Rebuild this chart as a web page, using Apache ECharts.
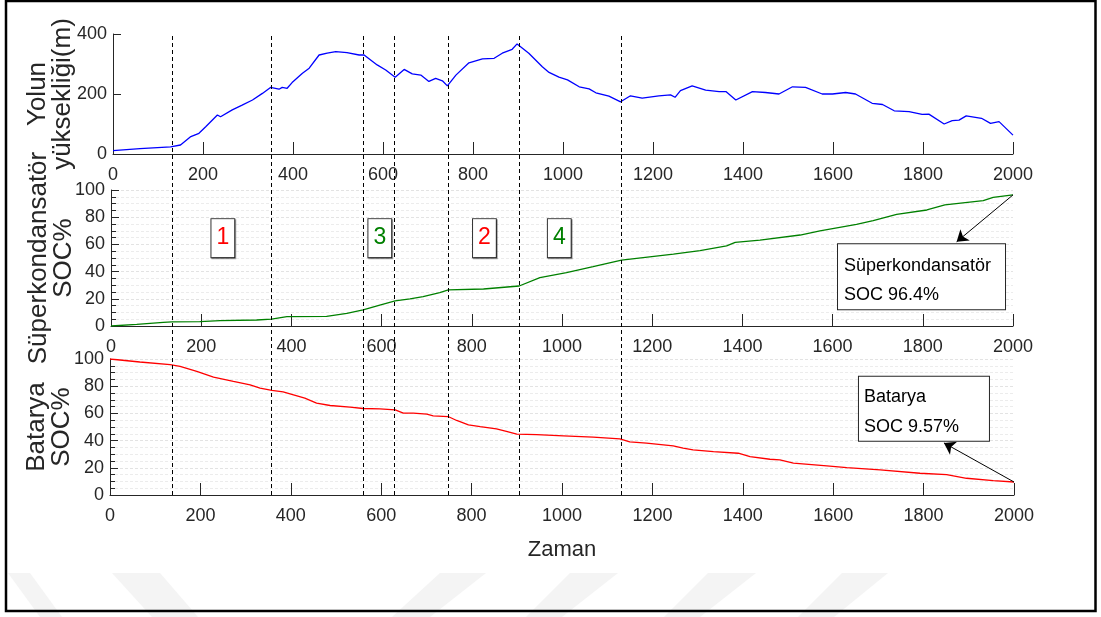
<!DOCTYPE html>
<html>
<head>
<meta charset="utf-8">
<style>
  html, body { margin: 0; padding: 0; background: #fff; }
  .main { width: 1101px; height: 617px; }
</style>
<script src="https://cdn.jsdelivr.net/npm/echarts@6/dist/echarts.min.js"></script>
</head>
<body>
<div class="main"></div>
<script>
// road elevation (m)
var elevX = [0, 60, 128, 150, 173, 191, 206, 232, 239, 265, 287, 310, 332, 350, 369, 376, 387, 398, 421, 436, 458, 476, 495, 520, 547, 558, 587, 606, 627, 647, 665, 684, 702, 717, 732, 743, 762, 791, 821, 847, 865, 887, 898, 924, 954, 969, 991, 1010, 1036, 1058, 1073, 1102, 1128, 1150, 1176, 1213, 1239, 1249, 1261, 1287, 1317, 1347, 1362, 1384, 1421, 1450, 1480, 1510, 1539, 1576, 1599, 1628, 1650, 1687, 1710, 1736, 1769, 1798, 1813, 1847, 1865, 1880, 1896, 1930, 1950, 1969, 2000];
var elevY = [11, 18, 24, 30, 58, 69, 91, 130, 124, 147, 163, 180, 202, 222, 216, 222, 219, 238, 269, 286, 330, 336, 341, 338, 330, 330, 297, 280, 256, 282, 267, 263, 242, 252, 244, 227, 263, 304, 317, 319, 336, 349, 367, 336, 291, 272, 256, 247, 224, 217, 204, 193, 174, 194, 186, 194, 197, 189, 211, 227, 213, 208, 208, 180, 208, 205, 200, 224, 222, 200, 200, 205, 200, 169, 165, 144, 141, 132, 133, 100, 111, 113, 127, 119, 102, 108, 63];

// supercapacitor SOC %
var scX = [0, 57, 116, 135, 197, 242, 323, 356, 390, 478, 523, 559, 596, 630, 663, 692, 729, 748, 826, 905, 951, 1010, 1069, 1132, 1247, 1306, 1365, 1384, 1439, 1528, 1572, 1653, 1690, 1742, 1809, 1849, 1934, 1956, 2000];
var scY = [0, 1.2, 2.7, 3, 3.2, 3.9, 4.4, 5.1, 6.9, 7.1, 9.3, 11.8, 15.4, 18.4, 19.9, 21.6, 24.5, 26.5, 27.2, 29.4, 35.5, 39.2, 43.6, 48.5, 52.9, 55.4, 58.9, 61.5, 63.2, 66.9, 70, 74.8, 77.5, 82, 85.3, 89, 92.2, 94.6, 96.4];

// battery SOC %
var batX = [0, 66, 133, 155, 192, 229, 273, 310, 332, 358, 383, 406, 431, 457, 487, 531, 560, 597, 631, 649, 671, 701, 715, 748, 767, 793, 819, 855, 877, 900, 944, 1003, 1069, 1128, 1150, 1187, 1246, 1268, 1290, 1335, 1390, 1416, 1460, 1482, 1512, 1586, 1630, 1704, 1792, 1851, 1895, 1954, 2000];
var batY = [100, 97.8, 95.8, 94.5, 90.9, 86.7, 83.5, 81, 78.6, 76.9, 75.9, 73.7, 71.3, 67.6, 65.8, 64.6, 63.6, 63.4, 62.6, 60.2, 60.2, 59.5, 58.2, 57.7, 54.8, 51.6, 50.3, 48.6, 46.7, 44.7, 44.4, 43.5, 42.5, 41.3, 39, 38.1, 36.1, 34.4, 33.2, 31.9, 30.7, 28.2, 26.3, 25.8, 23.4, 21.4, 20.1, 18.4, 16, 15, 12.3, 10.5, 9.57];

// mode change instants (dashed lines)
var phaseX = [135, 356, 560, 629, 747, 905, 1132];

// mode boxes
var modeNames = ['1', '3', '2', '4'];
var modeX = [248, 596, 828, 994];
var modeColors = ['#ff0000', '#008000', '#ff0000', '#008000'];

var scFinal = 96.4;
var batFinal = 9.57;

(function() {
  function zip(xs, ys) {
    return xs.map(function(x, i) { return [x, ys[i]]; });
  }
  function plain(v) {
    return String(v);
  }

  var font = 'Liberation Sans, Arial, Helvetica, sans-serif';
  var ink = '#262626';

  function xAx(gridIndex, name) {
    return {
      type: 'value',
      gridIndex: gridIndex,
      min: 0,
      max: 2000,
      interval: 200,
      name: name || '',
      nameLocation: 'middle',
      nameGap: 44,
      nameMoveOverlap: false,
      nameTextStyle: { fontSize: 22, color: ink, fontFamily: font },
      axisLine: { show: true, lineStyle: { color: ink, width: 1 } },
      axisTick: { show: true, inside: true, length: 12, lineStyle: { color: ink } },
      axisLabel: { color: ink, fontSize: 18, fontFamily: font, margin: 12, formatter: plain },
      splitLine: { show: false }
    };
  }

  function yAx(gridIndex, name, max, interval, minor, gap) {
    return {
      type: 'value',
      gridIndex: gridIndex,
      min: 0,
      max: max,
      interval: interval,
      name: name,
      nameLocation: 'middle',
      nameRotate: 90,
      nameGap: gap,
      nameMoveOverlap: false,
      nameTextStyle: { fontSize: 26, lineHeight: 25, color: ink, fontFamily: font },
      axisLine: { show: true, lineStyle: { color: ink, width: 1 } },
      axisTick: { show: true, inside: true, length: 8, lineStyle: { color: ink } },
      minorTick: { show: minor, splitNumber: 4, length: 5, lineStyle: { color: ink } },
      axisLabel: { color: ink, fontSize: 18, fontFamily: font, margin: 6, formatter: plain },
      splitLine: { show: minor, lineStyle: { color: '#e3e3e3', type: [3, 2] } },
      minorSplitLine: { show: minor, lineStyle: { color: '#ececec', type: [3, 2] } }
    };
  }

  // number boxes for the modes
  var modePoints = modeNames.map(function(n, i) {
    return {
      coord: [modeX[i], 64.6],
      label: {
        show: true,
        position: 'inside',
        formatter: n,
        color: modeColors[i],
        fontSize: 23,
        fontFamily: font,
        lineHeight: 23,
        padding: [8, 5, 7, 5],
        borderColor: '#333',
        borderWidth: 1,
        backgroundColor: '#fff',
        shadowColor: 'rgba(0,0,0,0.35)',
        shadowOffsetX: 1,
        shadowOffsetY: 1
      }
    };
  });

  var boxLabel = {
    show: true,
    position: [0, 0],
    align: 'left',
    verticalAlign: 'top',
    color: '#000',
    fontSize: 18,
    fontFamily: font,
    borderColor: ink,
    borderWidth: 1,
    backgroundColor: '#fff'
  };

  var scBox = {
    coord: [1612, 60.2],
    label: Object.assign({}, boxLabel, {
      formatter: 'Süperkondansatör\nSOC ' + scFinal + '%',
      lineHeight: 29,
      width: 155,
      height: 57,
      padding: [7, 6, 1, 6]
    })
  };
  var batBox = {
    coord: [1657, 87],
    label: Object.assign({}, boxLabel, {
      formatter: 'Batarya\nSOC ' + batFinal + '%',
      lineHeight: 30,
      width: 120,
      height: 58,
      padding: [5, 5, 1, 5]
    })
  };

  var arrowStyle = {
    silent: true,
    symbol: ['none', 'arrow'],
    symbolSize: 11,
    label: { show: false },
    lineStyle: { color: '#000', width: 1, type: 'solid' },
    emphasis: { disabled: true }
  };

  // watermark chevrons
  var wm = [
    [[8, 573], [30, 573], [62, 617], [40, 617]],
    [[112, 573], [160, 573], [198, 617], [152, 617]],
    [[440, 573], [486, 573], [430, 617], [392, 617]],
    [[570, 573], [618, 573], [562, 617], [526, 617]],
    [[708, 573], [756, 573], [700, 617], [664, 617]],
    [[842, 573], [888, 573], [834, 617], [798, 617]]
  ].map(function(p) {
    return { type: 'polygon', z: -10, silent: true, shape: { points: p }, style: { fill: '#f4f4f4' } };
  });

  // 1. 实例化对象
  var myChart = echarts.init(document.querySelector('.main'));
  // 2. 指定配置项和数据
  var option = {
    animation: false,
    backgroundColor: '#fff',
    graphic: wm.concat([
      {
        type: 'rect',
        z: 100,
        silent: true,
        shape: { x: 6, y: 1, width: 1089.5, height: 610 },
        style: { fill: 'none', stroke: '#000', lineWidth: 2.5 }
      }
    ]),
    grid: [
      { left: 113, right: 88, top: 34, height: 120 },
      { left: 111, right: 88, top: 190, height: 136 },
      { left: 110, right: 87, top: 359, height: 136 },
      { left: 111, right: 88, top: 33, height: 462 }
    ],
    xAxis: [
      xAx(0),
      xAx(1),
      xAx(2, 'Zaman'),
      { type: 'value', gridIndex: 3, min: 0, max: 2000, show: false }
    ],
    yAxis: [
      yAx(0, 'Yolun\nyüksekliği(m)', 400, 200, false, 38),
      yAx(1, 'Süperkondansatör\nSOC%', 100, 20, true, 35),
      yAx(2, 'Batarya\nSOC%', 100, 20, true, 36),
      { type: 'value', gridIndex: 3, min: 0, max: 1, show: false }
    ],
    series: [
      {
        name: 'Yükseklik',
        type: 'line',
        xAxisIndex: 0,
        yAxisIndex: 0,
        showSymbol: false,
        data: zip(elevX, elevY),
        lineStyle: { color: '#0000ff', width: 1.3 },
        itemStyle: { color: '#0000ff' }
      },
      {
        name: 'Süperkondansatör SOC',
        type: 'line',
        xAxisIndex: 1,
        yAxisIndex: 1,
        showSymbol: false,
        data: zip(scX, scY),
        lineStyle: { color: '#008000', width: 1.3 },
        itemStyle: { color: '#008000' },
        markPoint: {
          silent: true,
          symbol: 'rect',
          symbolSize: 0,
          data: modePoints.concat([scBox])
        },
        markLine: Object.assign({}, arrowStyle, {
          data: [[{ coord: [2000, scFinal] }, { coord: [1875, 61.9] }]]
        })
      },
      {
        name: 'Batarya SOC',
        type: 'line',
        xAxisIndex: 2,
        yAxisIndex: 2,
        showSymbol: false,
        data: zip(batX, batY),
        lineStyle: { color: '#ff0000', width: 1.3 },
        itemStyle: { color: '#ff0000' },
        markPoint: {
          silent: true,
          symbol: 'rect',
          symbolSize: 0,
          data: [batBox]
        },
        markLine: Object.assign({}, arrowStyle, {
          data: [[{ coord: [2000, batFinal] }, { coord: [1845, 38.3] }]]
        })
      },
      {
        // dashed lines across all three panels
        name: 'phase',
        type: 'line',
        xAxisIndex: 3,
        yAxisIndex: 3,
        data: [],
        markLine: {
          silent: true,
          symbol: ['none', 'none'],
          label: { show: false },
          lineStyle: { color: '#000', width: 1, type: [4, 3] },
          data: phaseX.map(function(v) { return { xAxis: v }; })
        }
      }
    ]
  };
  // 3. 配置项和数据给我们的实例化对象
  myChart.setOption(option);
  // 4. 浏览器缩放的时候，图表也等比例缩放
  window.addEventListener('resize', function() {
    myChart.resize();
  });
})();
</script>
</body>
</html>
